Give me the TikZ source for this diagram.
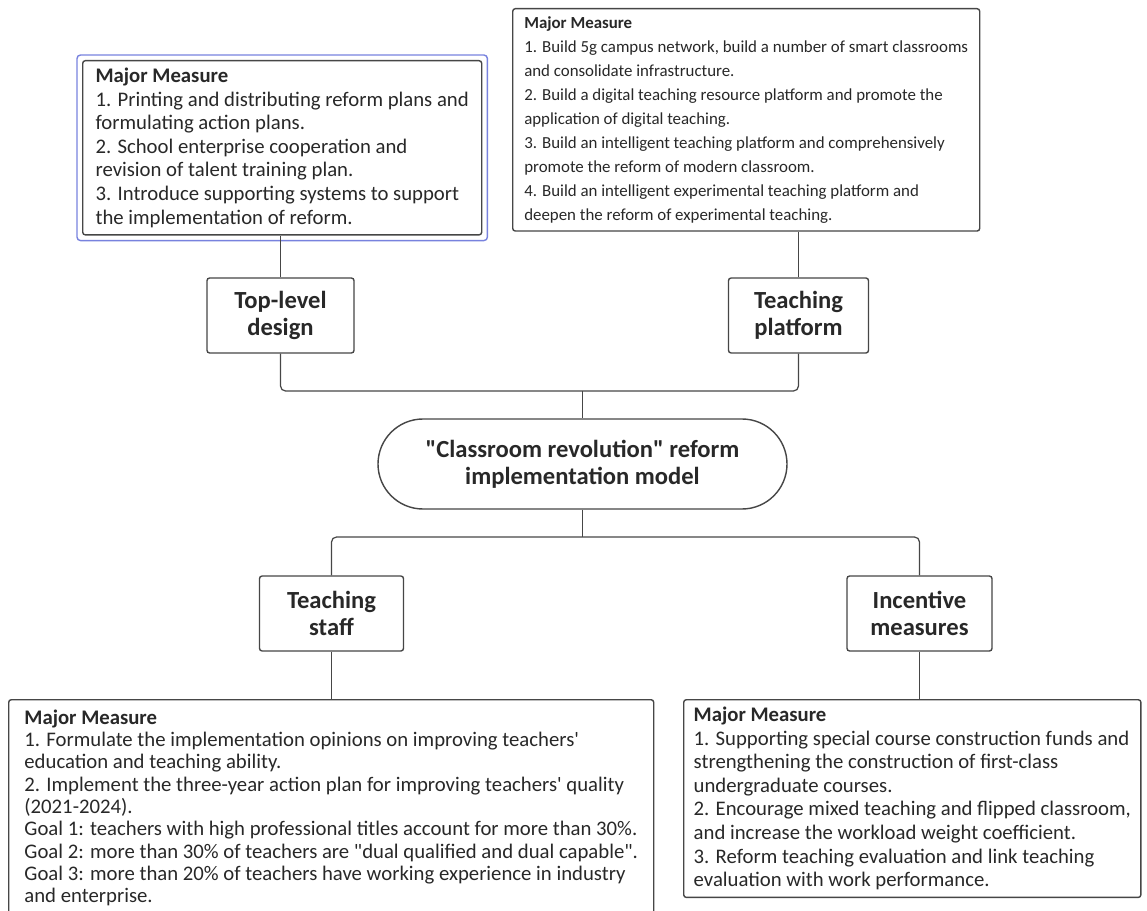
\documentclass[tikz,border=0pt]{standalone}
\usepackage{fontspec}
\setmainfont{Carlito}[Ligatures=TeXOff]
\usetikzlibrary{fit}

\definecolor{linegray}{RGB}{70,70,70}
\definecolor{selblue}{RGB}{120,130,222}
\definecolor{textgray}{RGB}{40,40,40}

\tikzset{
  link/.style={draw=linegray, line width=0.7pt, rounded corners=0.1cm},
  pillar/.style={draw=linegray, line width=0.8pt, rounded corners=1.5pt, fill=white,
    text=textgray, align=center, font=\fontsize{14}{15.3}\selectfont\bfseries,
    minimum height=1.5cm, inner sep=0pt},
  measure/.style={draw=linegray, line width=0.8pt, rounded corners=1.5pt, fill=white,
    text=textgray, align=left, inner xsep=0.2cm, inner ysep=0.15cm},
  bigtext/.style={font=\fontsize{11.8}{13.4}\selectfont},
  smalltext/.style={font=\fontsize{9.6}{13.7}\selectfont},
}

\newcommand{\measurehead}{\textbf{Major Measure}}

\begin{document}
\begin{tikzpicture}
    \useasboundingbox (0, 0) rectangle (22.94, 18.2);

    % measures above
    \node[measure, bigtext, anchor=north west, minimum width=7.98cm, minimum height=3.36cm] (mtl) at (1.64, 17.0) {
        \measurehead\\
        1. Printing and distributing reform plans and\\
        formulating action plans.\\
        2. School enterprise cooperation and\\
        revision of talent training plan.\\
        3. Introduce supporting systems to support\\
        the implementation of reform.};
    \node[fit=(mtl), inner sep=0.1cm, draw=selblue, line width=0.8pt, rounded corners=2pt] (mtlsel) {};

    \node[measure, smalltext, anchor=north west, minimum width=9.34cm, minimum height=4.4cm] (mtr) at (10.24, 18.04) {
        \measurehead\\
        1. Build 5g campus network, build a number of smart classrooms\\
        and consolidate infrastructure.\\
        2. Build a digital teaching resource platform and promote the\\
        application of digital teaching.\\
        3. Build an intelligent teaching platform and comprehensively\\
        promote the reform of modern classroom.\\
        4. Build an intelligent experimental teaching platform and\\
        deepen the reform of experimental teaching.};

    % the four parts and the model
    \node[pillar, minimum width=2.94cm] (tld) at (5.61, 11.89) {Top-level\\design};
    \node[pillar, minimum width=2.8cm] (tp) at (15.97, 11.89) {Teaching\\platform};

    \node[pillar, minimum width=8.18cm, minimum height=1.8cm, rounded corners=0.9cm] (model) at (11.65, 8.92)
        {"Classroom revolution" reform\\implementation model};

    \node[pillar, minimum width=2.88cm] (ts) at (6.63, 5.93) {Teaching\\staff};
    \node[pillar, minimum width=2.9cm] (im) at (18.39, 5.93) {Incentive\\measures};

    % measures below
    \node[measure, font=\fontsize{11.8}{12.7}\selectfont, anchor=north west, minimum width=12.9cm, inner ysep=0.2cm] (mbl) at (0.16, 4.22) {
        \measurehead\\
        1. Formulate the implementation opinions on improving teachers'\\
        education and teaching ability.\\
        2. Implement the three-year action plan for improving teachers' quality\\
        (2021-2024).\\
        Goal 1: teachers with high professional titles account for more than 30\%.\\
        Goal 2: more than 30\% of teachers are "dual qualified and dual capable".\\
        Goal 3: more than 20\% of teachers have working experience in industry\\
        and enterprise.};

    \node[measure, bigtext, anchor=north west, minimum width=9.14cm, minimum height=3.8cm] (mbr) at (13.66, 4.22) {
        \measurehead\\
        1. Supporting special course construction funds and\\
        strengthening the construction of first-class\\
        undergraduate courses.\\
        2. Encourage mixed teaching and flipped classroom,\\
        and increase the workload weight coefficient.\\
        3. Reform teaching evaluation and link teaching\\
        evaluation with work performance.};

    \coordinate (topbus) at (11.65, 10.38);
    \coordinate (botbus) at (11.65, 7.46);

    \draw[link] (tld.north) -- (tld.north |- mtl.south);
    \draw[link] (tp.north) -- (tp.north |- mtr.south);
    \draw[link] (tld.south) |- (topbus) -| (tp.south);
    \draw[link] (topbus) -- (model.north);

    \draw[link] (model.south) -- (botbus);
    \draw[link] (ts.north) |- (botbus) -| (im.north);
    \draw[link] (ts.south) -- (ts.south |- mbl.north);
    \draw[link] (im.south) -- (im.south |- mbr.north);
\end{tikzpicture}
\end{document}
